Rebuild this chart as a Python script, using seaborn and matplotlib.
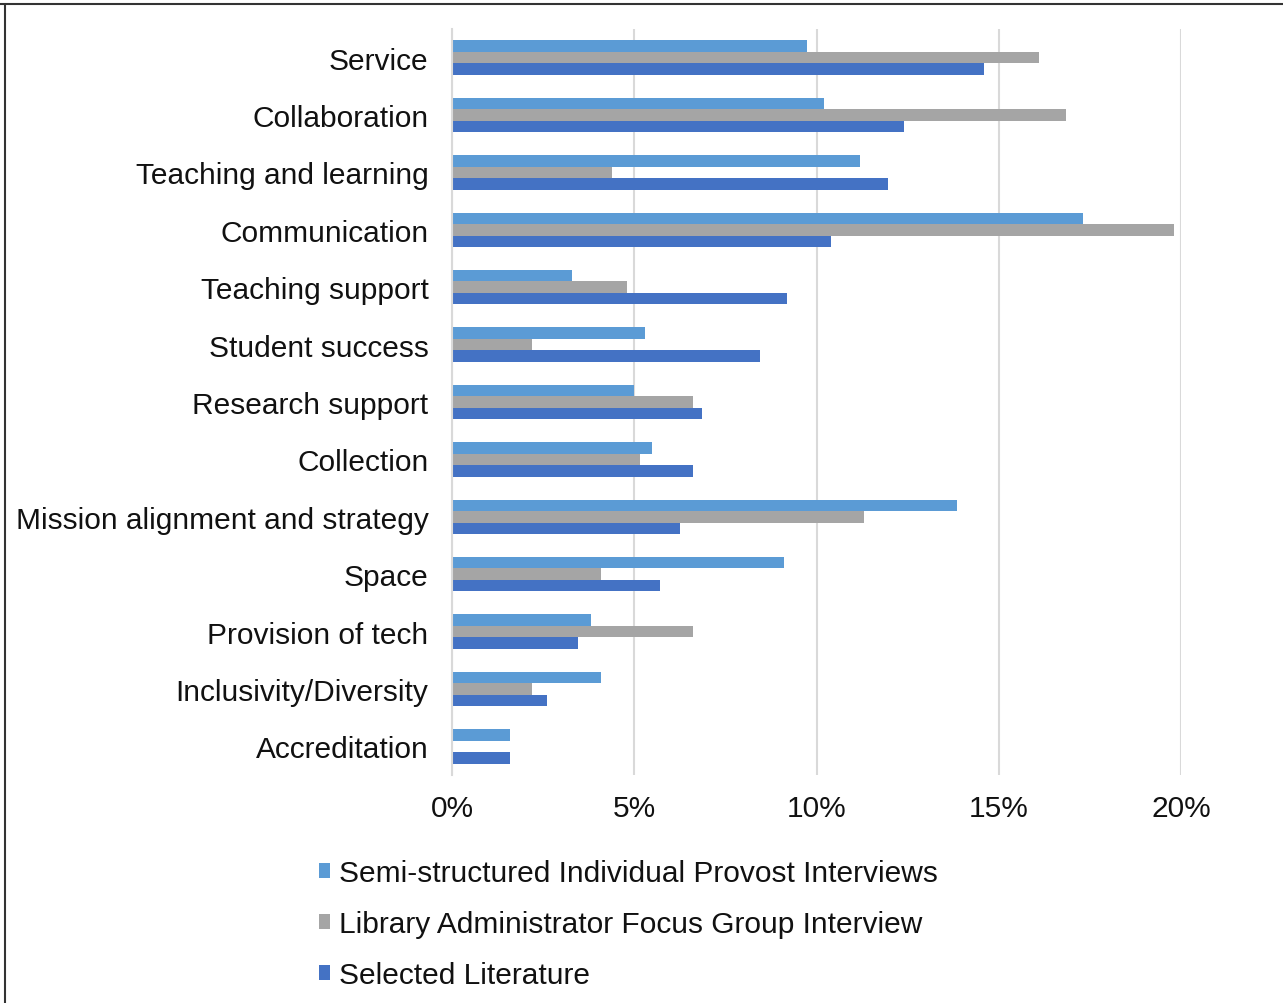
import pandas as pd
import matplotlib.pyplot as plt
import seaborn as sns
from matplotlib.lines import Line2D
from matplotlib.ticker import PercentFormatter

# --- chart data (percent of mentions per theme) ---
categories = [
    "Service", "Collaboration", "Teaching and learning", "Communication",
    "Teaching support", "Student success", "Research support", "Collection",
    "Mission alignment and strategy", "Space", "Provision of tech",
    "Inclusivity/Diversity", "Accreditation",
]
series_names = [
    "Semi-structured Individual Provost Interviews",
    "Library Administrator Focus Group Interview",
    "Selected Literature",
]
provost_interviews = [9.75, 10.2, 11.2, 17.3, 3.3, 5.3, 5.0, 5.5, 13.85, 9.1, 3.8, 4.1, 1.6]
focus_group = [16.1, 16.85, 4.4, 19.8, 4.8, 2.2, 6.6, 5.15, 11.3, 4.1, 6.6, 2.2, 0.0]
selected_literature = [14.6, 12.4, 11.95, 10.4, 9.2, 8.45, 6.85, 6.6, 6.25, 5.7, 3.45, 2.6, 1.6]
x_ticks = [0, 5, 10, 15, 20]
colors = ["#5B9BD5", "#A5A5A5", "#4472C4"]

# --- long-form table for seaborn ---
frames = []
for name, vals in zip(series_names, [provost_interviews, focus_group, selected_literature]):
    frames.append(pd.DataFrame({"category": categories, "value": vals, "source": name}))
df = pd.concat(frames, ignore_index=True)

sns.set_theme(style="white")
plt.rcParams["font.family"] = ["Liberation Sans", "DejaVu Sans"]

fig = plt.figure(figsize=(12.83, 10.04), dpi=100)
ax = fig.add_axes([452 / 1283, 1 - 776 / 1004, (1181 - 452) / 1283, (776 - 30) / 1004])

sns.barplot(
    data=df, y="category", x="value", hue="source", orient="h",
    palette=colors, saturation=1, width=0.6, linewidth=0, ax=ax, legend=True,
)

ax.set_xlim(0, 20)
ax.set_xticks(x_ticks)
ax.xaxis.set_major_formatter(PercentFormatter(decimals=0))
ax.set_ylim(len(categories) - 0.5, -0.5)
ax.grid(axis="x", color="#D9D9D9", linewidth=1.5)
ax.set_axisbelow(True)
for side in ["top", "right", "bottom"]:
    ax.spines[side].set_visible(False)
ax.spines["left"].set_color("#D9D9D9")
ax.spines["left"].set_linewidth(1.5)
ax.set_xlabel("")
ax.set_ylabel("")
ax.tick_params(axis="y", length=0, pad=17, labelsize=21.5, colors="#111111")
ax.tick_params(axis="x", length=0, pad=14, labelsize=21.5, colors="#111111")

# legend below the plot, stacked vertically
handles, labels = ax.get_legend_handles_labels()
ax.legend_.remove()
fig.legend(
    handles, labels, loc="upper left", bbox_to_anchor=(292 / 1283, 1 - 833 / 1004),
    frameon=False, fontsize=21.5, handlelength=0.38, handleheight=0.38,
    handletextpad=0.3, labelspacing=0.78, labelcolor="#111111",
)

# outer frame (top and left edges of the boxed figure)
fig.add_artist(Line2D([0, 1], [1 - 5 / 1004, 1 - 5 / 1004], color="#333333", linewidth=1.5,
                      transform=fig.transFigure))
fig.add_artist(Line2D([5 / 1283, 5 / 1283], [0, 1 - 5 / 1004], color="#333333", linewidth=1.5,
                      transform=fig.transFigure))

fig.savefig("out.png", dpi=100)
